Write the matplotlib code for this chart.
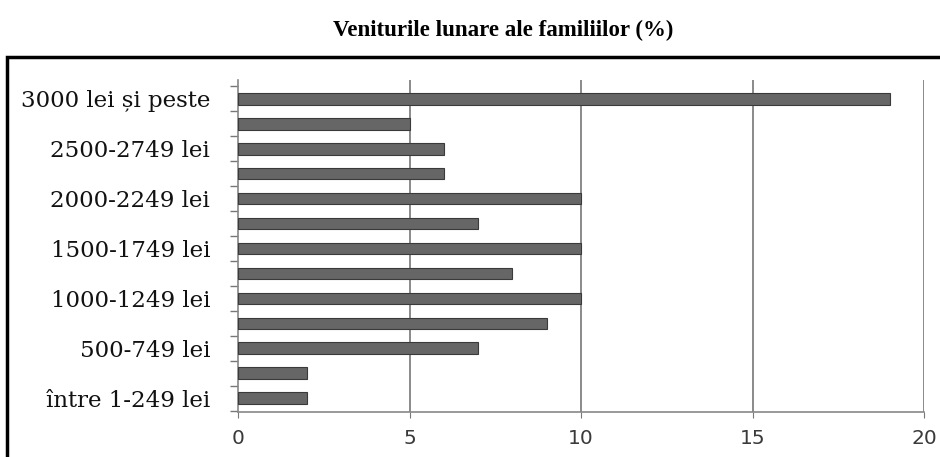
import matplotlib
matplotlib.use("Agg")
import matplotlib.pyplot as plt
from matplotlib.patches import Rectangle
import numpy as np

categories = ["între 1-249 lei", "250-499 lei", "500-749 lei", "750-999 lei",
              "1000-1249 lei", "1250-1499 lei", "1500-1749 lei", "1750-1999 lei",
              "2000-2249 lei", "2250-2499 lei", "2500-2749 lei", "2750-2999 lei",
              "3000 lei și peste"]
values = [2, 2, 7, 9, 10, 8, 10, 7, 10, 6, 6, 5, 19]
xticks = [0, 5, 10, 15, 20]
title = "Veniturile lunare ale familiilor (%)"

fig = plt.figure(figsize=(9.4, 4.57), dpi=100)
ax = fig.add_axes([238/940, 45/457, (924-238)/940, (412-80)/457])

y = np.arange(len(categories))
ax.barh(y, values, height=0.47, color="#666666", edgecolor="#3a3a3a", linewidth=0.8, zorder=3)

ax.set_xlim(0, 20)
ax.set_ylim(-0.55, 12.75)
ax.set_xticks(xticks)
ax.set_xticklabels([str(v) for v in xticks], fontfamily="DejaVu Sans", fontsize=14.5, color="#3a3a3a")
ax.tick_params(axis="x", length=4, color="#777777", pad=8)

ax.set_yticks(y[::2])
ax.set_yticklabels(categories[::2], fontfamily="DejaVu Serif", fontsize=16.5, color="#111111")
ax.tick_params(axis="y", which="major", length=0, pad=20)
ax.set_yticks(np.arange(-0.5, len(categories), 1.0), minor=True)
ax.tick_params(axis="y", which="minor", length=6, color="#777777", width=1)

for v in xticks[1:]:
    ax.axvline(v, color="#777777", linewidth=1.2, zorder=1)

for s in ["top", "right"]:
    ax.spines[s].set_visible(False)
for s in ["left", "bottom"]:
    ax.spines[s].set_color("#888888")
    ax.spines[s].set_linewidth(1.2)

fig.text(0.5 + 33/940, 1 - 30/457, title, ha="center", va="center",
         fontfamily="Liberation Serif", fontweight="bold", fontsize=16.5)

fig.patches.append(Rectangle((7/940, -0.05), 1.0, (457-57)/457 + 0.05,
                             transform=fig.transFigure, fill=False,
                             edgecolor="black", linewidth=2.5, zorder=10))

fig.savefig("out.png", dpi=100)
